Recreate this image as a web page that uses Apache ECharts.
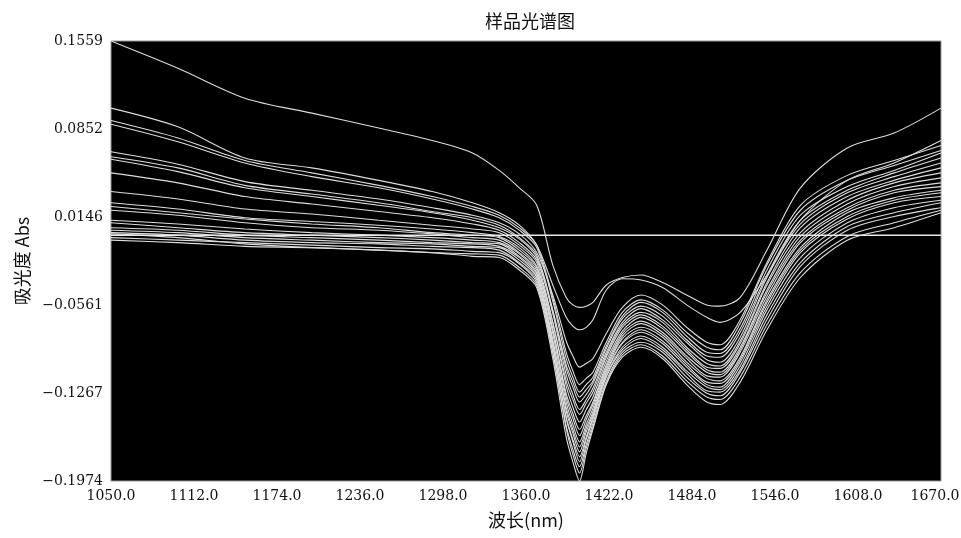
<!DOCTYPE html>
<html>
<head>
<meta charset="utf-8">
<script src="https://cdn.jsdelivr.net/npm/echarts@6/dist/echarts.min.js"></script>
<style>html,body{margin:0;padding:0;background:#fff}#c{width:961px;height:538px}</style>
</head>
<body>
<div id="c"></div>
<script>
const wavelengths = [1050,1100,1150,1200,1250,1290,1320,1340,1355,1368,1380,1390,1395,1400,1405,1410,1420,1432,1446,1462,1480,1495,1505,1520,1540,1565,1600,1635,1670];
const xTicks = [1050,1112,1174,1236,1298,1360,1422,1484,1546,1608,1670];
const yTicks = [-0.1974,-0.1267,-0.0561,0.0146,0.0852,0.1559];
const baseline = [[1050,0],[1670,0]];

const s01 = [0.1559,0.134,0.110,0.098,0.086,0.076,0.066,0.052,0.038,0.024,-0.024,-0.050,-0.056,-0.058,-0.057,-0.054,-0.040,-0.034,-0.032,-0.038,-0.048,-0.056,-0.057,-0.050,-0.012,0.038,0.070,0.082,0.102];
const s02 = [0.102,0.087,0.062,0.054,0.044,0.035,0.026,0.018,0.008,-0.008,-0.040,-0.066,-0.073,-0.076,-0.074,-0.068,-0.044,-0.035,-0.036,-0.042,-0.056,-0.066,-0.070,-0.062,-0.032,0.012,0.044,0.058,0.076];
const s03 = [0.067,0.057,0.043,0.036,0.029,0.022,0.016,0.010,0.001,-0.014,-0.048,-0.085,-0.097,-0.106,-0.103,-0.099,-0.079,-0.058,-0.048,-0.056,-0.074,-0.086,-0.088,-0.068,-0.022,0.024,0.048,0.060,0.072];
const s04 = [0.092,0.078,0.060,0.050,0.040,0.031,0.023,0.016,0.006,-0.008,-0.050,-0.094,-0.109,-0.120,-0.115,-0.110,-0.086,-0.062,-0.052,-0.060,-0.078,-0.090,-0.092,-0.071,-0.024,0.020,0.044,0.056,0.068];
const s05 = [0.089,0.075,0.058,0.047,0.038,0.029,0.021,0.014,0.004,-0.010,-0.053,-0.099,-0.114,-0.126,-0.120,-0.114,-0.089,-0.065,-0.054,-0.062,-0.081,-0.094,-0.095,-0.075,-0.028,0.016,0.039,0.052,0.066];
const s06 = [0.050,0.042,0.031,0.025,0.019,0.014,0.009,0.004,-0.006,-0.020,-0.061,-0.104,-0.118,-0.130,-0.124,-0.117,-0.091,-0.067,-0.057,-0.065,-0.084,-0.097,-0.098,-0.078,-0.032,0.012,0.036,0.050,0.062];
const s07 = [0.063,0.054,0.040,0.033,0.026,0.019,0.014,0.008,-0.002,-0.016,-0.060,-0.107,-0.122,-0.134,-0.128,-0.119,-0.094,-0.070,-0.059,-0.068,-0.086,-0.100,-0.102,-0.082,-0.034,0.009,0.034,0.047,0.058];
const s08 = [0.061,0.051,0.038,0.031,0.024,0.018,0.012,0.006,-0.003,-0.018,-0.063,-0.112,-0.128,-0.140,-0.132,-0.123,-0.096,-0.072,-0.062,-0.070,-0.090,-0.103,-0.105,-0.085,-0.038,0.006,0.031,0.044,0.054];
const s09 = [0.023,0.018,0.013,0.009,0.006,0.002,0.000,-0.002,-0.012,-0.026,-0.070,-0.117,-0.132,-0.144,-0.135,-0.126,-0.098,-0.074,-0.064,-0.073,-0.092,-0.106,-0.107,-0.087,-0.040,0.002,0.028,0.042,0.050];
const s10 = [0.035,0.029,0.021,0.017,0.012,0.008,0.005,0.002,-0.008,-0.022,-0.070,-0.121,-0.138,-0.150,-0.140,-0.130,-0.101,-0.077,-0.066,-0.075,-0.094,-0.108,-0.110,-0.090,-0.044,-0.001,0.025,0.039,0.046];
const s11 = [0.012,0.009,0.005,0.002,0.000,-0.002,-0.004,-0.006,-0.015,-0.030,-0.076,-0.127,-0.143,-0.156,-0.145,-0.134,-0.104,-0.079,-0.069,-0.078,-0.097,-0.110,-0.112,-0.092,-0.046,-0.004,0.022,0.036,0.042];
const s12 = [0.026,0.021,0.014,0.011,0.008,0.005,0.002,-0.001,-0.010,-0.025,-0.075,-0.130,-0.147,-0.161,-0.148,-0.136,-0.106,-0.081,-0.071,-0.080,-0.099,-0.113,-0.114,-0.094,-0.049,-0.006,0.020,0.034,0.039];
const s13 = [0.020,0.016,0.010,0.006,0.004,0.001,-0.002,-0.004,-0.014,-0.028,-0.079,-0.134,-0.152,-0.166,-0.152,-0.139,-0.108,-0.083,-0.074,-0.082,-0.102,-0.115,-0.117,-0.098,-0.052,-0.010,0.018,0.030,0.036];
const s14 = [0.004,0.002,-0.002,-0.004,-0.006,-0.007,-0.009,-0.010,-0.020,-0.034,-0.085,-0.138,-0.156,-0.170,-0.155,-0.142,-0.110,-0.086,-0.076,-0.085,-0.104,-0.118,-0.119,-0.100,-0.054,-0.012,0.015,0.028,0.034];
const s15 = [0.010,0.006,0.002,0.000,-0.002,-0.004,-0.006,-0.007,-0.017,-0.031,-0.084,-0.141,-0.159,-0.174,-0.158,-0.144,-0.111,-0.087,-0.078,-0.087,-0.106,-0.120,-0.122,-0.102,-0.057,-0.014,0.013,0.026,0.031];
const s16 = [-0.002,-0.004,-0.006,-0.008,-0.010,-0.011,-0.013,-0.014,-0.023,-0.038,-0.090,-0.146,-0.164,-0.178,-0.162,-0.146,-0.113,-0.090,-0.081,-0.090,-0.109,-0.122,-0.124,-0.105,-0.060,-0.018,0.010,0.022,0.028];
const s17 = [0.006,0.004,0.000,-0.002,-0.004,-0.006,-0.007,-0.009,-0.018,-0.033,-0.088,-0.147,-0.166,-0.182,-0.164,-0.148,-0.114,-0.092,-0.083,-0.092,-0.111,-0.125,-0.126,-0.108,-0.064,-0.022,0.007,0.018,0.026];
const s18 = [-0.004,-0.006,-0.009,-0.010,-0.012,-0.014,-0.015,-0.016,-0.026,-0.040,-0.094,-0.153,-0.172,-0.186,-0.168,-0.151,-0.117,-0.094,-0.086,-0.094,-0.114,-0.127,-0.129,-0.110,-0.068,-0.025,0.004,0.015,0.022];
const s19 = [0.002,0.000,-0.004,-0.006,-0.007,-0.009,-0.010,-0.012,-0.022,-0.036,-0.094,-0.155,-0.176,-0.191,-0.171,-0.154,-0.119,-0.096,-0.088,-0.097,-0.117,-0.130,-0.132,-0.114,-0.072,-0.030,-0.001,0.010,0.020];
const s20 = [0.001,-0.002,-0.007,-0.010,-0.012,-0.014,-0.017,-0.018,-0.028,-0.042,-0.099,-0.162,-0.182,-0.1974,-0.175,-0.156,-0.120,-0.098,-0.090,-0.099,-0.120,-0.134,-0.136,-0.118,-0.076,-0.034,-0.004,0.006,0.018];

const spectra = [s01,s02,s03,s04,s05,s06,s07,s08,s09,s10,s11,s12,s13,s14,s15,s16,s17,s18,s19,s20];

const series = spectra.map((vals, i) => ({
  name: '样品' + (i + 1),
  type: 'line',
  data: wavelengths.map((w, j) => [w, vals[j]]),
  showSymbol: false,
  smooth: 0.3,
  lineStyle: { color: '#dcdcdc', width: 1.1 },
  silent: true
}));
series.push({
  name: '基线',
  type: 'line',
  data: baseline,
  showSymbol: false,
  lineStyle: { color: '#e8e8e8', width: 1.5 },
  silent: true
});

const chart = echarts.init(document.getElementById('c'), null, { renderer: 'canvas' });
const numFont = 'DejaVu Serif';
const lastX = xTicks[xTicks.length - 1];
chart.setOption({
  animation: false,
  backgroundColor: '#fff',
  title: {
    text: '样品光谱图',
    left: 525, top: 7, textAlign: 'center',
    textStyle: { fontFamily: 'Noto Sans CJK SC', fontSize: 18, fontWeight: 'normal', color: '#111' }
  },
  grid: {
    left: 111, right: 20, top: 41, bottom: 57,
    outerBoundsMode: 'none', containLabel: false,
    show: true, backgroundColor: '#000', borderColor: '#999', borderWidth: 1
  },
  xAxis: {
    type: 'value', min: 1050, max: 1670,
    name: '波长(nm)', nameLocation: 'middle', nameGap: 30,
    nameTextStyle: { fontFamily: 'Noto Sans CJK SC', fontSize: 18, color: '#111' },
    axisLine: { show: false }, axisTick: { show: false }, splitLine: { show: false },
    axisLabel: {
      customValues: xTicks, margin: 8,
      fontFamily: numFont, fontSize: 14, color: '#111',
      formatter: v => v === lastX ? '{e|' + v.toFixed(1) + '}' : v.toFixed(1),
      rich: { e: { fontFamily: numFont, fontSize: 14, color: '#111', padding: [0, 12, 0, 0] } }
    }
  },
  yAxis: {
    type: 'value', min: -0.1974, max: 0.1559,
    name: '吸光度 Abs', nameLocation: 'middle', nameGap: 80, nameRotate: 90,
    nameTextStyle: { fontFamily: 'Noto Sans CJK SC', fontSize: 18, color: '#111' },
    axisLine: { show: false }, axisTick: { show: false }, splitLine: { show: false },
    axisLabel: {
      customValues: yTicks, margin: 8,
      fontFamily: numFont, fontSize: 14, color: '#111',
      formatter: v => (v < 0 ? '\u2212' : '') + Math.abs(v).toFixed(4)
    }
  },
  series: series
});
</script>
</body>
</html>
